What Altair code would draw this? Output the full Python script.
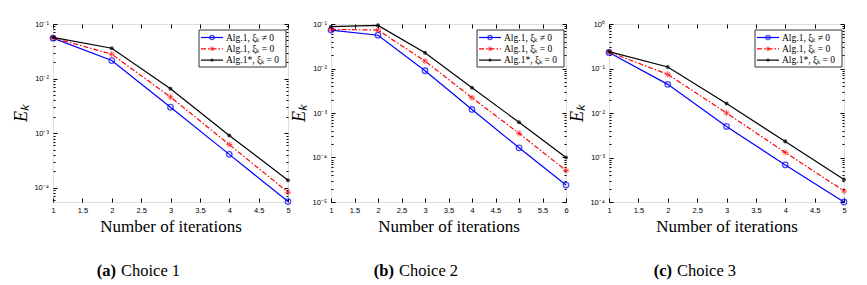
import altair as alt
import pandas as pd

SERIES = ["Alg.1, ξₖ ≠ 0", "Alg.1, ξₖ = 0", "Alg.1*, ξₖ = 0"]
COLORS = ["#0000ff", "#ff0000", "#000000"]

iters_a = [1, 2, 3, 4, 5]
a_blue = [0.055, 0.0214, 0.0030, 4.1e-4, 5.6e-5]
a_red = [0.056, 0.028, 0.0046, 6.2e-4, 8.3e-5]
a_black = [0.057, 0.036, 0.0065, 9.1e-4, 1.38e-4]

iters_b = [1, 2, 3, 4, 5, 6]
b_blue = [0.073, 0.056, 0.0089, 1.2e-3, 1.65e-4, 2.4e-5]
b_red = [0.076, 0.073, 0.0147, 2.2e-3, 3.5e-4, 5.1e-5]
b_black = [0.087, 0.093, 0.0226, 3.7e-3, 6.2e-4, 1.0e-4]

iters_c = [1, 2, 3, 4, 5]
c_blue = [0.23, 0.044, 5.0e-3, 6.8e-4, 1.0e-4]
c_red = [0.235, 0.074, 0.010, 1.3e-3, 1.77e-4]
c_black = [0.24, 0.108, 0.0163, 2.3e-3, 3.2e-4]

W, H = 235, 178
ASTER = "M-1,0L1,0M0,-1L0,1M-0.7,-0.7L0.7,0.7M-0.7,0.7L0.7,-0.7"
SANS = "Liberation Sans"
SERIF = "Liberation Serif"

YEXPR = ("datum.value >= 0.99 ? '10⁰' : datum.value >= 0.099 ? '10⁻¹' : "
         "datum.value >= 0.0099 ? '10⁻²' : datum.value >= 0.00099 ? '10⁻³' : "
         "datum.value >= 0.000099 ? '10⁻⁴' : '10⁻⁵'")


def point_mark(j, size):
    if j == 0:
        return dict(shape="circle", filled=False, color=COLORS[0], strokeWidth=1.3, size=size)
    if j == 1:
        return dict(shape=ASTER, filled=False, color=COLORS[1], strokeWidth=1.0, size=size * 1.2)
    return dict(shape="circle", filled=True, color=COLORS[2], size=size * 0.55)


def line_mark(j):
    d = dict(color=COLORS[j], strokeWidth=1.2)
    if j == 1:
        d["strokeDash"] = [5, 2, 1.5, 2]
    return d


def panel(iters, vals3, ydom, ymajor, tag, cap):
    xmax = iters[-1]
    rows = []
    for s, vals in zip(SERIES, vals3):
        for i, v in zip(iters, vals):
            rows.append({"iter": i, "E": v, "series": s})
    df = pd.DataFrame(rows)
    xsc = alt.Scale(domain=[1, xmax], nice=False, zero=False)
    ysc = alt.Scale(type="log", domain=ydom, nice=False)
    xt = [1 + 0.5 * k for k in range(int(round((xmax - 1) * 2)) + 1)]
    minors = []
    for e in range(-6, 1):
        for m in range(2, 10):
            v = m * 10.0 ** e
            if ydom[0] <= v <= ydom[1]:
                minors.append(v)

    def X(axis):
        return alt.X("iter:Q", scale=xsc, axis=axis)

    def Y(axis):
        return alt.Y("E:Q", scale=ysc, axis=axis)

    base = alt.Chart(df)
    ax1 = base.mark_point(opacity=0).encode(
        x=X(alt.Axis(orient="bottom", values=xt, format="~g", offset=-4, tickSize=4,
                     domain=False, grid=False, labelFlush=False, labelPadding=4,
                     labelFont=SANS, labelFontSize=7.5, labelColor="#000", tickColor="#000",
                     title="Number of iterations", titleFont=SERIF, titleFontSize=17,
                     titleFontWeight="normal", titleColor="#000", titleY=28,
                     titleBaseline="middle")),
        y=Y(alt.Axis(orient="left", values=ymajor, labelExpr=YEXPR, offset=-4, tickSize=4,
                     domain=False, grid=False, labelPadding=4.5, labelFont=SANS,
                     labelFontSize=7.5, labelColor="#000", tickColor="#000",
                     title="Eₖ", titleFont=SERIF, titleFontSize=18, titleFontStyle="italic",
                     titleFontWeight="normal", titleColor="#000", titleX=-36, titleY=H / 2,
                     titleAngle=-90, titleAlign="center", titleBaseline="middle")),
    )
    ax2 = base.mark_point(opacity=0).encode(
        x=X(alt.Axis(orient="top", values=xt, offset=-4, tickSize=4, domain=False, grid=False,
                     labels=False, title=None, tickColor="#000")),
        y=Y(alt.Axis(orient="right", values=ymajor, offset=-4, tickSize=4, domain=False,
                     grid=False, labels=False, title=None, tickColor="#000")),
    )
    ax3 = base.mark_point(opacity=0).encode(
        x=X(None),
        y=Y(alt.Axis(orient="left", values=minors, offset=-2, tickSize=2, domain=False,
                     grid=False, labels=False, title=None, tickColor="#000")),
    )
    ax4 = base.mark_point(opacity=0).encode(
        x=X(None),
        y=Y(alt.Axis(orient="right", values=minors, offset=-2, tickSize=2, domain=False,
                     grid=False, labels=False, title=None, tickColor="#000")),
    )
    layers = [ax1, ax2, ax3, ax4]
    for j, s in enumerate(SERIES):
        sub = alt.Chart(df[df["series"] == s])
        layers.append(sub.mark_line(**line_mark(j)).encode(x=X(None), y=Y(None)))
        layers.append(sub.mark_point(**point_mark(j, 30)).encode(x=X(None), y=Y(None)))

    one = alt.Chart(pd.DataFrame({"a": [0]}))
    layers.append(one.mark_rect(fill="white", stroke="#000", strokeWidth=0.8).encode(
        x=alt.value(146), x2=alt.value(233), y=alt.value(6), y2=alt.value(43)))
    for j, s in enumerate(SERIES):
        yy = 13.5 + 11.3 * j
        layers.append(one.mark_rule(**line_mark(j)).encode(
            x=alt.value(148), x2=alt.value(170), y=alt.value(yy)))
        layers.append(one.mark_point(**point_mark(j, 18)).encode(
            x=alt.value(159), y=alt.value(yy)))
        layers.append(one.mark_text(align="left", baseline="middle", font=SERIF, fontSize=9.5,
                                    color="#000").encode(
            x=alt.value(173), y=alt.value(yy), text=alt.value(s)))
    layers.append(one.mark_text(align="right", baseline="middle", font=SERIF, fontSize=16.5,
                                fontWeight="bold", color="#000").encode(
        x=alt.value(63), y=alt.value(247), text=alt.value(tag)))
    layers.append(one.mark_text(align="left", baseline="middle", font=SERIF, fontSize=16.5,
                                color="#000").encode(
        x=alt.value(68), y=alt.value(247), text=alt.value(cap)))

    return alt.layer(*layers).resolve_axis(x="independent", y="independent").properties(
        width=W, height=H)


p1 = panel(iters_a, [a_blue, a_red, a_black], [5.5e-5, 0.1], [1e-4, 1e-3, 1e-2, 1e-1],
           "(a)", "Choice 1")
p2 = panel(iters_b, [b_blue, b_red, b_black], [1e-5, 0.1], [1e-5, 1e-4, 1e-3, 1e-2, 1e-1],
           "(b)", "Choice 2")
p3 = panel(iters_c, [c_blue, c_red, c_black], [1e-4, 1.0], [1e-4, 1e-3, 1e-2, 1e-1, 1.0],
           "(c)", "Choice 3")

chart = alt.hconcat(p1, p2, p3, spacing=43, bounds="flush").properties(
    padding={"left": 3, "top": 11, "right": 5, "bottom": 5}
).configure_view(stroke="#000", strokeWidth=0.8).configure_axis(
    titleFont=SERIF
).configure(background="white")

chart.save("out.html", embed_options={"renderer": "svg", "actions": False})
